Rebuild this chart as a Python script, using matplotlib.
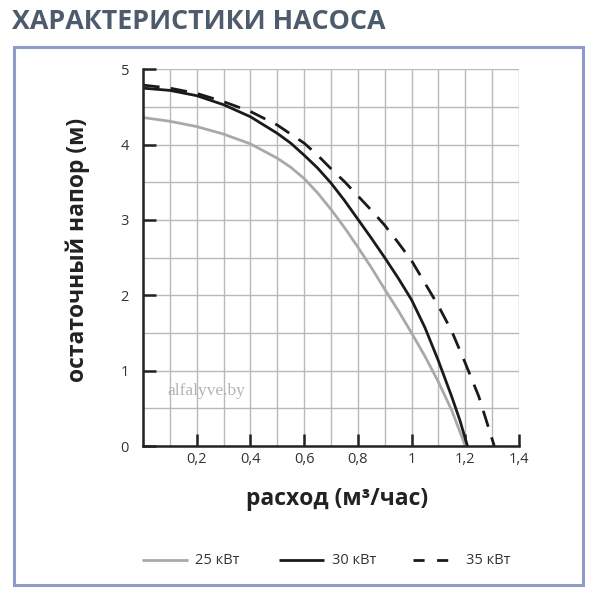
import matplotlib
matplotlib.use("Agg")
import matplotlib.pyplot as plt
from matplotlib.patches import Rectangle
from matplotlib.lines import Line2D

plt.rcParams['font.family'] = ['Open Sans', 'DejaVu Sans']

# flow, m3/h  -> head, m
flow_25 = [0.0, 0.1, 0.2, 0.3, 0.4, 0.5, 0.55, 0.6, 0.65, 0.7, 0.75, 0.8, 0.85, 0.9, 0.95,
           1.0, 1.05, 1.1, 1.15, 1.2]
head_25 = [4.36, 4.31, 4.24, 4.14, 4.01, 3.82, 3.70, 3.55, 3.36, 3.14, 2.90, 2.64, 2.37, 2.08, 1.80,
           1.50, 1.19, 0.85, 0.47, 0.0]

flow_30 = [0.0, 0.1, 0.2, 0.3, 0.4, 0.5, 0.55, 0.6, 0.65, 0.7, 0.75, 0.8, 0.85, 0.9, 0.95,
           1.0, 1.05, 1.1, 1.15, 1.18, 1.208]
head_30 = [4.75, 4.72, 4.65, 4.53, 4.37, 4.15, 4.02, 3.86, 3.69, 3.49, 3.26, 3.01, 2.76, 2.50, 2.23,
           1.94, 1.57, 1.13, 0.65, 0.34, 0.0]

flow_35 = [0.0, 0.1, 0.2, 0.3, 0.4, 0.5, 0.6, 0.65, 0.7, 0.75, 0.8, 0.85, 0.9, 0.95,
           1.0, 1.05, 1.1, 1.15, 1.2, 1.25, 1.308]
head_35 = [4.79, 4.75, 4.68, 4.57, 4.44, 4.26, 4.02, 3.86, 3.68, 3.51, 3.32, 3.13, 2.93, 2.70,
           2.46, 2.16, 1.86, 1.52, 1.10, 0.66, 0.0]

labels = ['25 кВт', '30 кВт', '35 кВт']
x_ticks = [0.2, 0.4, 0.6, 0.8, 1.0, 1.2, 1.4]
x_tick_labels = ['0,2', '0,4', '0,6', '0,8', '1', '1,2', '1,4']
y_ticks = [0, 1, 2, 3, 4, 5]

fig = plt.figure(figsize=(5.96, 6.0), dpi=100)
fig.patch.set_facecolor('white')

# frame around chart
fig.patches.append(Rectangle((14 / 596, 1 - 585 / 600), (583 - 14) / 596, (585 - 47) / 600,
                             transform=fig.transFigure, fill=False,
                             edgecolor='#8f9ccb', linewidth=2.2))

fig.text(12 / 596, 1 - 22 / 600, 'ХАРАКТЕРИСТИКИ НАСОСА', fontsize=19.4,
         fontweight='bold', color='#4d5b6d', va='center', ha='left')

ax = fig.add_axes([143 / 596, 1 - 446 / 600, (519 - 143) / 596, (446 - 69.3) / 600])
ax.set_xlim(0, 1.4)
ax.set_ylim(0, 5)

ax.set_xticks([i / 10 for i in range(15)], minor=True)
ax.set_yticks([i / 2 for i in range(11)], minor=True)
ax.set_xticks(x_ticks)
ax.set_xticklabels(x_tick_labels)
ax.set_yticks(y_ticks)
ax.grid(True, which='both', color='#b9b9b9', linewidth=1.0)
ax.set_axisbelow(True)
ax.tick_params(which='major', direction='in', length=9, width=1.8, color='#222222',
               labelsize=10.5, labelcolor='#333333', pad=4)
ax.tick_params(which='minor', length=0)
ax.tick_params(axis='y', pad=10)
for s in ['top', 'right']:
    ax.spines[s].set_visible(False)
for s in ['left', 'bottom']:
    ax.spines[s].set_linewidth(1.8)
    ax.spines[s].set_color('#222222')

ax.plot(flow_25, head_25, color='#a9a9a9', linewidth=2.0, solid_capstyle='butt')
ax.plot(flow_30, head_30, color='#1a1a1a', linewidth=2.0, solid_capstyle='butt')
ax.plot(flow_35, head_35, color='#1a1a1a', linewidth=2.0, linestyle=(0, (6, 4)),
        dash_capstyle='butt')

ax.text(0.09, 0.73, 'alfalyve.by', fontsize=12.5, family='Liberation Serif',
        color='#b3b3b3', va='center', ha='left')

fig.text(78 / 596, 1 - 250 / 600, 'остаточный напор (м)', rotation=90, fontsize=16.5,
         fontweight='bold', color='#222222', va='center', ha='center')
fig.text(337 / 596, 1 - 499 / 600, 'расход (м³/час)', fontsize=16.5,
         fontweight='bold', color='#222222', va='center', ha='center')

# legend drawn by hand in figure coordinates
ly = 1 - 560 / 600
legend_items = [
    (142, 188, 195, dict(color='#a9a9a9', linestyle='-')),
    (279, 324, 332, dict(color='#1a1a1a', linestyle='-')),
    (413, 449, 466, dict(color='#1a1a1a', linestyle=(0, (4, 4.5)))),
]
for (x0, x1, xt, style), lab in zip(legend_items, labels):
    fig.add_artist(Line2D([x0 / 596, x1 / 596], [ly, ly], transform=fig.transFigure,
                          linewidth=2.0, solid_capstyle='butt', dash_capstyle='butt', **style))
    fig.text(xt / 596, ly, lab, fontsize=10.5, color='#333333', va='center', ha='left')

fig.savefig('out.png', dpi=100)
